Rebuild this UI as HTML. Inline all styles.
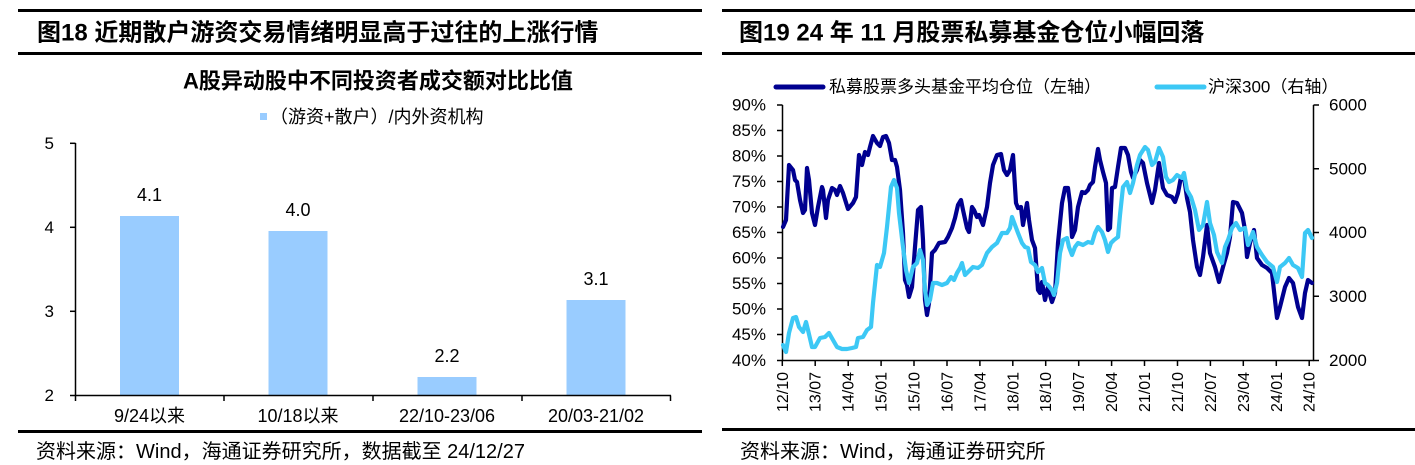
<!DOCTYPE html>
<html>
<head>
<meta charset="utf-8">
<style>
html,body{margin:0;padding:0;background:#fff;}
svg{display:block;}
text{font-family:"Liberation Sans","Noto Sans CJK SC",sans-serif;fill:#000;}
</style>
</head>
<body>
<svg width="1415" height="465" viewBox="0 0 1415 465" xmlns="http://www.w3.org/2000/svg">
<!-- LEFT PANEL -->
<rect x="18" y="9" width="684" height="3" fill="#000"/>
<text x="37" y="33" font-size="24" font-weight="bold" dominant-baseline="central">图18 近期散户游资交易情绪明显高于过往的上涨行情</text>
<rect x="18" y="52" width="684" height="3" fill="#000"/>
<text x="378" y="81" font-size="22" font-weight="bold" text-anchor="middle" dominant-baseline="central">A股异动股中不同投资者成交额对比比值</text>
<rect x="260" y="113" width="7" height="7" fill="#99CCFF"/>
<text x="270" y="117" font-size="18" dominant-baseline="central">（游资+散户）/内外资机构</text>

<!-- bars -->
<rect x="120" y="216" width="59" height="179.5" fill="#99CCFF"/>
<rect x="268.5" y="231" width="59" height="164.5" fill="#99CCFF"/>
<rect x="417.5" y="377" width="59" height="18.5" fill="#99CCFF"/>
<rect x="566.5" y="300" width="59" height="95.5" fill="#99CCFF"/>
<g font-size="18" text-anchor="middle" dominant-baseline="central">
<text x="149.5" y="195">4.1</text>
<text x="298" y="210">4.0</text>
<text x="447" y="356">2.2</text>
<text x="596" y="279">3.1</text>
</g>
<!-- axes -->
<g stroke="#000" stroke-width="1.5" fill="none">
<line x1="75.5" y1="143" x2="75.5" y2="396"/>
<line x1="70" y1="143.3" x2="75.5" y2="143.3"/>
<line x1="70" y1="227.3" x2="75.5" y2="227.3"/>
<line x1="70" y1="311.3" x2="75.5" y2="311.3"/>
<line x1="70" y1="395.5" x2="75.5" y2="395.5"/>
<line x1="75" y1="395.5" x2="671" y2="395.5"/>
<line x1="75.5" y1="395.5" x2="75.5" y2="401"/>
<line x1="224" y1="395.5" x2="224" y2="401"/>
<line x1="373" y1="395.5" x2="373" y2="401"/>
<line x1="522" y1="395.5" x2="522" y2="401"/>
<line x1="670.5" y1="395.5" x2="670.5" y2="401"/>
</g>
<g font-size="17" text-anchor="end" dominant-baseline="central">
<text x="54" y="143.3">5</text>
<text x="54" y="227.3">4</text>
<text x="54" y="311.3">3</text>
<text x="54" y="395.5">2</text>
</g>
<g font-size="18" text-anchor="middle" dominant-baseline="central">
<text x="149.5" y="416">9/24以来</text>
<text x="298" y="416">10/18以来</text>
<text x="447" y="416">22/10-23/06</text>
<text x="596" y="416">20/03-21/02</text>
</g>
<rect x="18" y="430" width="684" height="3" fill="#000"/>
<text x="36" y="452" font-size="20" dominant-baseline="central">资料来源：Wind，海通证券研究所，数据截至 24/12/27</text>

<!-- RIGHT PANEL -->
<rect x="722" y="9" width="693" height="3" fill="#000"/>
<text x="739" y="33" font-size="24" font-weight="bold" dominant-baseline="central">图19 24 年 11 月股票私募基金仓位小幅回落</text>
<rect x="722" y="52" width="693" height="3" fill="#000"/>

<!-- legend -->
<line x1="776" y1="87" x2="823" y2="87" stroke="#000090" stroke-width="5" stroke-linecap="round"/>
<text x="829" y="87" font-size="17" dominant-baseline="central">私募股票多头基金平均仓位（左轴）</text>
<line x1="1157" y1="87" x2="1204" y2="87" stroke="#3CC8F5" stroke-width="5" stroke-linecap="round"/>
<text x="1208" y="87" font-size="17" dominant-baseline="central">沪深300（右轴）</text>

<!-- axes -->
<g stroke="#000" stroke-width="1.5" fill="none">
<line x1="782.5" y1="105" x2="782.5" y2="361"/>
<line x1="777" y1="105" x2="782.5" y2="105"/>
<line x1="777" y1="130.5" x2="782.5" y2="130.5"/>
<line x1="777" y1="156" x2="782.5" y2="156"/>
<line x1="777" y1="181.5" x2="782.5" y2="181.5"/>
<line x1="777" y1="207" x2="782.5" y2="207"/>
<line x1="777" y1="232.5" x2="782.5" y2="232.5"/>
<line x1="777" y1="258" x2="782.5" y2="258"/>
<line x1="777" y1="283.5" x2="782.5" y2="283.5"/>
<line x1="777" y1="309" x2="782.5" y2="309"/>
<line x1="777" y1="334.5" x2="782.5" y2="334.5"/>
<line x1="777" y1="360.5" x2="782.5" y2="360.5"/>
<line x1="1313.5" y1="105" x2="1313.5" y2="361"/>
<line x1="1313.5" y1="105" x2="1319" y2="105"/>
<line x1="1313.5" y1="168.75" x2="1319" y2="168.75"/>
<line x1="1313.5" y1="232.5" x2="1319" y2="232.5"/>
<line x1="1313.5" y1="296.25" x2="1319" y2="296.25"/>
<line x1="1313.5" y1="360.5" x2="1319" y2="360.5"/>
<line x1="782" y1="360.5" x2="1314" y2="360.5"/>
</g>
<g stroke="#000" stroke-width="1.5">
<line x1="782.3" y1="360.5" x2="782.3" y2="366"/>
<line x1="815.2" y1="360.5" x2="815.2" y2="366"/>
<line x1="848.2" y1="360.5" x2="848.2" y2="366"/>
<line x1="881.1" y1="360.5" x2="881.1" y2="366"/>
<line x1="914.0" y1="360.5" x2="914.0" y2="366"/>
<line x1="947.0" y1="360.5" x2="947.0" y2="366"/>
<line x1="979.9" y1="360.5" x2="979.9" y2="366"/>
<line x1="1012.8" y1="360.5" x2="1012.8" y2="366"/>
<line x1="1045.7" y1="360.5" x2="1045.7" y2="366"/>
<line x1="1078.7" y1="360.5" x2="1078.7" y2="366"/>
<line x1="1111.6" y1="360.5" x2="1111.6" y2="366"/>
<line x1="1144.5" y1="360.5" x2="1144.5" y2="366"/>
<line x1="1177.5" y1="360.5" x2="1177.5" y2="366"/>
<line x1="1210.4" y1="360.5" x2="1210.4" y2="366"/>
<line x1="1243.3" y1="360.5" x2="1243.3" y2="366"/>
<line x1="1276.3" y1="360.5" x2="1276.3" y2="366"/>
<line x1="1309.2" y1="360.5" x2="1309.2" y2="366"/>
</g>
<g font-size="17" text-anchor="end" dominant-baseline="central">
<text x="766" y="105">90%</text>
<text x="766" y="130.5">85%</text>
<text x="766" y="156">80%</text>
<text x="766" y="181.5">75%</text>
<text x="766" y="207">70%</text>
<text x="766" y="232.5">65%</text>
<text x="766" y="258">60%</text>
<text x="766" y="283.5">55%</text>
<text x="766" y="309">50%</text>
<text x="766" y="334.5">45%</text>
<text x="766" y="360.5">40%</text>
</g>
<g font-size="17" dominant-baseline="central">
<text x="1329" y="105">6000</text>
<text x="1329" y="168.75">5000</text>
<text x="1329" y="232.5">4000</text>
<text x="1329" y="296.25">3000</text>
<text x="1329" y="360.5">2000</text>
</g>
<g font-size="16" text-anchor="end" dominant-baseline="central">
<text transform="translate(783.3,372) rotate(-90)">12/10</text>
<text transform="translate(816.2,372) rotate(-90)">13/07</text>
<text transform="translate(849.2,372) rotate(-90)">14/04</text>
<text transform="translate(882.1,372) rotate(-90)">15/01</text>
<text transform="translate(915.0,372) rotate(-90)">15/10</text>
<text transform="translate(948.0,372) rotate(-90)">16/07</text>
<text transform="translate(980.9,372) rotate(-90)">17/04</text>
<text transform="translate(1013.8,372) rotate(-90)">18/01</text>
<text transform="translate(1046.7,372) rotate(-90)">18/10</text>
<text transform="translate(1079.7,372) rotate(-90)">19/07</text>
<text transform="translate(1112.6,372) rotate(-90)">20/04</text>
<text transform="translate(1145.5,372) rotate(-90)">21/01</text>
<text transform="translate(1178.5,372) rotate(-90)">21/10</text>
<text transform="translate(1211.4,372) rotate(-90)">22/07</text>
<text transform="translate(1244.3,372) rotate(-90)">23/04</text>
<text transform="translate(1277.3,372) rotate(-90)">24/01</text>
<text transform="translate(1310.2,372) rotate(-90)">24/10</text>
</g>

<!-- series -->
<polyline fill="none" stroke="#000090" stroke-width="4.2" stroke-linejoin="round" stroke-linecap="round" points="783,227 786,220 789,165 793,170 795,180 797,182 800,200 803,213 805,210 807,168 809,180 812,213 815,225 818,207 822,187 823,190 826,218 828,200 832,188 835,190 837,195 840,186 843,193 848,209 853,203 856,197 859,155 862,165 865,152 868,155 870,147 873,136 877,143 880,146 883,137 886,136 889,143 892,160 895,160 897,167 900,190 903,233 905,280 907,285 909,297 912,287 915,247 918,210 921,207 923,240 925,300 927,315 929,303 932,253 935,250 939,243 945,242 948,237 952,228 955,218 958,205 961,200 963,210 967,228 969,232 972,207 974,210 977,217 979,215 983,225 987,207 990,183 993,165 997,155 1001,154 1004,170 1007,175 1010,170 1013,155 1016,203 1018,208 1021,207 1023,225 1027,203 1029,220 1032,240 1035,248 1038,290 1040,293 1042,282 1045,300 1048,287 1050,295 1052,302 1055,293 1058,243 1062,203 1065,188 1068,188 1070,203 1072,237 1075,230 1078,207 1082,192 1085,193 1088,190 1090,185 1093,182 1095,167 1098,149 1100,160 1103,172 1106,183 1108,230 1110,228 1112,188 1115,187 1118,167 1121,148 1125,148 1128,155 1131,172 1133,178 1137,170 1140,160 1143,163 1147,183 1152,203 1155,190 1159,163 1163,188 1167,195 1172,197 1175,202 1178,193 1181,177 1184,177 1187,198 1190,212 1193,240 1197,267 1200,275 1203,257 1207,225 1210,253 1215,267 1219,282 1223,267 1227,253 1230,237 1233,202 1237,203 1242,213 1245,230 1247,257 1250,243 1254,230 1257,258 1262,265 1267,268 1272,273 1277,318 1280,307 1285,287 1289,278 1293,283 1298,307 1302,318 1305,293 1308,280 1312,283"/>
<polyline fill="none" stroke="#3CC8F5" stroke-width="4.2" stroke-linejoin="round" stroke-linecap="round" points="783,345 786,352 789,333 793,318 796,317 799,327 803,332 806,322 808,330 812,347 815,347 820,338 825,337 829,333 833,340 837,347 842,349 847,349 852,348 856,347 858,338 863,337 867,330 871,327 873,303 877,265 880,267 884,253 887,227 891,187 894,180 897,188 899,213 903,247 906,270 909,283 913,267 917,263 920,250 923,260 925,290 927,305 930,300 933,283 937,283 942,285 947,283 951,277 954,280 957,273 960,268 962,263 965,275 968,272 973,267 978,268 982,265 987,253 992,247 997,243 1002,233 1007,233 1010,228 1012,217 1015,225 1018,233 1022,243 1025,247 1028,248 1031,262 1035,265 1038,272 1042,268 1045,283 1048,285 1052,290 1054,295 1057,283 1060,253 1063,240 1067,238 1069,247 1072,255 1075,247 1078,243 1083,245 1088,242 1092,243 1095,233 1098,227 1102,232 1105,240 1108,252 1111,243 1114,240 1118,237 1120,215 1123,187 1127,182 1130,193 1133,183 1137,165 1140,155 1145,147 1148,150 1152,165 1155,162 1159,148 1163,157 1166,177 1169,182 1173,180 1177,175 1182,178 1184,173 1187,190 1191,197 1195,210 1199,230 1203,225 1207,202 1210,223 1214,235 1217,252 1222,263 1225,247 1228,240 1232,228 1236,223 1240,230 1245,228 1248,245 1253,232 1257,247 1262,255 1267,262 1273,267 1277,282 1280,267 1285,263 1289,258 1293,265 1298,268 1302,277 1305,233 1308,230 1312,238"/>

<rect x="722" y="428" width="693" height="3" fill="#000"/>
<text x="740" y="452" font-size="20" dominant-baseline="central">资料来源：Wind，海通证券研究所</text>
</svg>
</body>
</html>
